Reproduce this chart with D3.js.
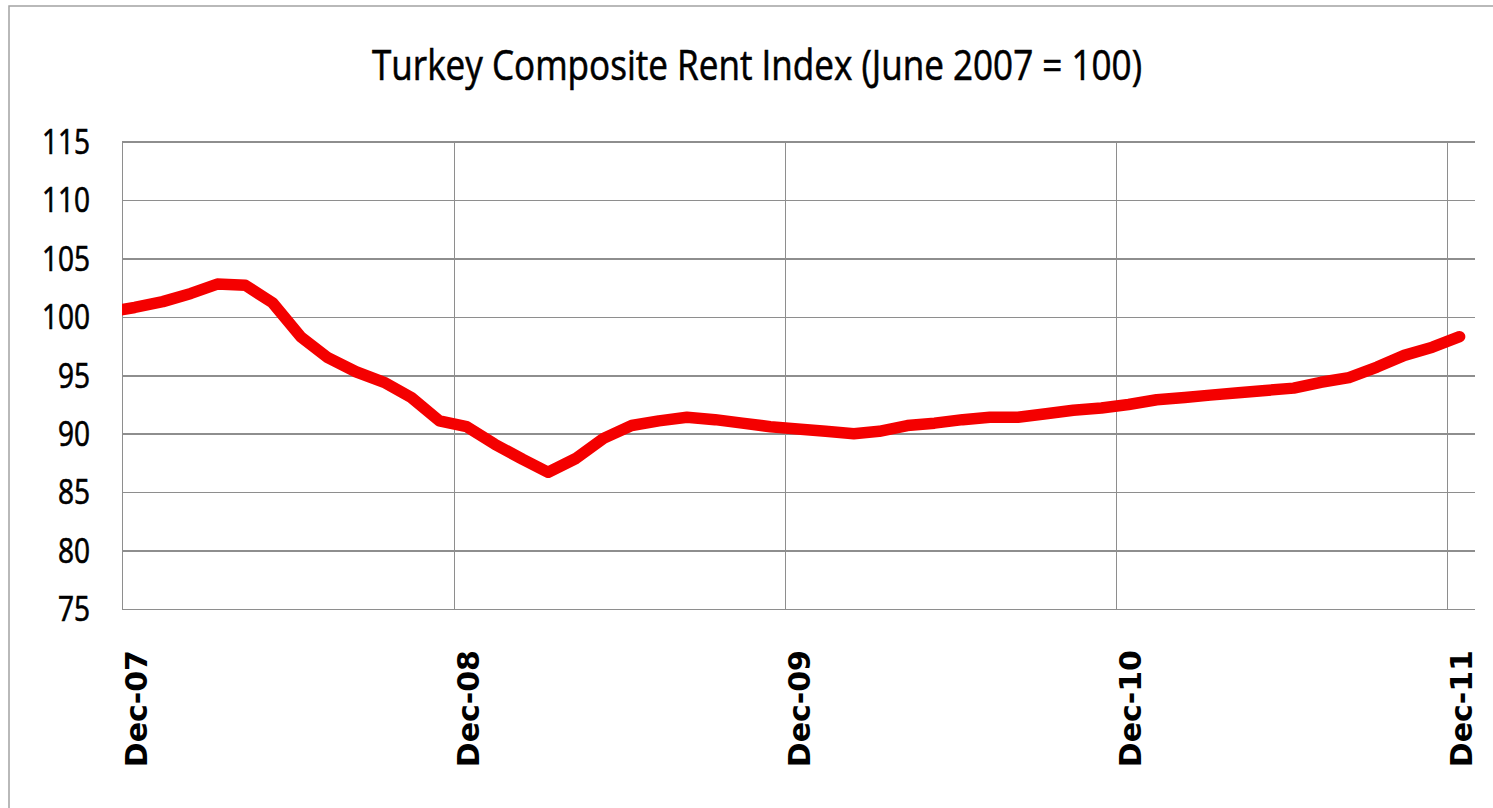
<!DOCTYPE html>
<html>
<head>
<meta charset="utf-8">
<script src="https://cdn.jsdelivr.net/npm/d3@7"></script>
<style>
  body { margin: 0; background: #fff; }
  .grid line { stroke: #8e8e8e; stroke-width: 1.6px; shape-rendering: crispEdges; }
  .grid path { display: none; }
</style>
</head>
<body>
<svg id="chart" width="1493" height="808"></svg>
<script>
// Chart text
const chartTitle = 'Turkey Composite Rent Index (June 2007 = 100)';

// Monthly readings, plotted mid-month. The first one (Nov-07) sits left of
// the axis start and is clipped, the last one is Dec-11.
const firstMonth = '2007-11-15';
const rentIndex = [
  100.4, 100.8, 101.3, 102.0, 102.8, 102.7, 101.2, 98.3, 96.5, 95.3, 94.4, 93.1,
  91.1, 90.6, 89.1, 87.8, 86.7, 87.9, 89.6, 90.7, 91.1, 91.4, 91.2, 90.9,
  90.6, 90.4, 90.2, 90.0, 90.2, 90.7, 90.9, 91.2, 91.4, 91.4, 91.7, 92.0,
  92.2, 92.5, 92.9, 93.1, 93.3, 93.5, 93.7, 93.9, 94.4, 94.8, 95.7, 96.7,
  97.4, 98.3,
];

// Axes
const yTicks = [75, 80, 85, 90, 95, 100, 105, 110, 115];
const xDomain = ['2007-12-01', '2012-01-01'];
const xTickDates = ['2007-12-01', '2008-12-01', '2009-12-01', '2010-12-01', '2011-12-01'];
const xTickLabels = ['Dec-07', 'Dec-08', 'Dec-09', 'Dec-10', 'Dec-11'];

const width = 1493;
const height = 808;
const plot = {
  left: 122, right: 1475, top: 141.5, bottom: 609,
};

const parseDay = d3.timeParse('%Y-%m-%d');
const start = parseDay(firstMonth);
const data = rentIndex.map((v, i) => ({ date: d3.timeMonth.offset(start, i), value: v }));

const svg = d3.select('#chart')
  .attr('viewBox', `0 0 ${width} ${height}`);

svg.append('rect')
  .attr('width', width)
  .attr('height', height)
  .attr('fill', '#fff');

// outer chart frame (runs off the right and bottom of the picture)
svg.append('rect')
  .attr('x', 9)
  .attr('y', 6)
  .attr('width', width + 20)
  .attr('height', height + 20)
  .attr('fill', 'none')
  .attr('stroke', '#a3a3a3')
  .attr('stroke-width', 1.5);

const x = d3.scaleTime()
  .domain(xDomain.map(parseDay))
  .range([plot.left, plot.right]);

const y = d3.scaleLinear()
  .domain([75, 115])
  .range([plot.bottom, plot.top]);

// horizontal gridlines
svg.append('g')
  .attr('class', 'grid')
  .attr('transform', `translate(${plot.left},0)`)
  .call(d3.axisLeft(y).tickValues(yTicks).tickSize(-(plot.right - plot.left)).tickFormat(''));

// vertical gridlines, the first one doubles as the value axis
svg.append('g')
  .attr('class', 'grid')
  .attr('transform', `translate(0,${plot.bottom})`)
  .call(d3.axisBottom(x).tickValues(xTickDates.map(parseDay)).tickSize(-(plot.bottom - plot.top)).tickFormat(''));

// value labels (narrow face, so squeeze a bit)
svg.append('g')
  .selectAll('text')
  .data(yTicks)
  .join('text')
  .attr('transform', (d) => `translate(90,${y(d)}) scale(0.8,1)`)
  .attr('dy', '0.35em')
  .attr('text-anchor', 'end')
  .style('font', '35px "Open Sans", sans-serif')
  .attr('fill', '#000')
  .attr('stroke', '#000')
  .attr('stroke-width', 0.7)
  .text((d) => d);

// date labels, rotated
svg.append('g')
  .selectAll('text')
  .data(xTickDates)
  .join('text')
  .attr('transform', (d) => `translate(${x(parseDay(d)) + 14},650) rotate(-90)`)
  .attr('dy', '0.36em')
  .attr('text-anchor', 'end')
  .style('font', 'bold 30px "DejaVu Sans", sans-serif')
  .attr('fill', '#000')
  .text((d, i) => xTickLabels[i]);

// title
svg.append('text')
  .attr('x', 757)
  .attr('y', 80)
  .attr('text-anchor', 'middle')
  .attr('textLength', 770)
  .attr('lengthAdjust', 'spacingAndGlyphs')
  .style('font', '42px "Open Sans", sans-serif')
  .attr('fill', '#000')
  .attr('stroke', '#000')
  .attr('stroke-width', 0.6)
  .text(chartTitle);

// the series, clipped at the plot's left and right edges
svg.append('clipPath')
  .attr('id', 'plot-clip')
  .append('rect')
  .attr('x', plot.left)
  .attr('y', 0)
  .attr('width', plot.right - plot.left)
  .attr('height', height);

const line = d3.line()
  .x((d) => x(d.date))
  .y((d) => y(d.value));

svg.append('path')
  .datum(data)
  .attr('clip-path', 'url(#plot-clip)')
  .attr('d', line)
  .attr('fill', 'none')
  .attr('stroke', '#f40000')
  .attr('stroke-width', 11.5)
  .attr('stroke-linejoin', 'round')
  .attr('stroke-linecap', 'round');
</script>
</body>
</html>
